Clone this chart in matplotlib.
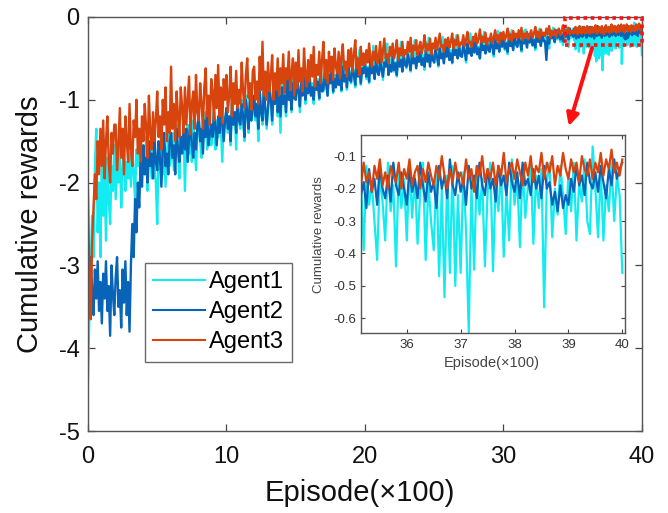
import numpy as np
import matplotlib
matplotlib.use("Agg")
import matplotlib.pyplot as plt
from matplotlib.patches import Rectangle, FancyArrowPatch

plt.rcParams['font.family'] = ['Liberation Sans', 'DejaVu Sans']
plt.rcParams['axes.unicode_minus'] = False

# ---------------- data ----------------
labels = ["Agent1", "Agent2", "Agent3"]
colors = ["#12ECF0", "#0864B8", "#D8440E"]

# episode grids (every 10th episode up to 3500, every 5th for the last 500)
ep_main = np.arange(0, 3500, 10)
ep_tail = np.arange(3500, 4001, 5)

agent1_main = [
    -4.4, -3.6, -3.0, -2.4, -2.9, -1.8, -1.35, -2.6, -2.0, -2.9,
    -1.6, -2.4, -1.9, -2.7, -1.7, -2.2, -2.5, -1.8, -2.1, -1.55,
    -2.2, -1.7, -2.0, -1.55, -2.3, -1.85, -1.6, -2.1, -1.75, -1.95,
    -1.65, -2.05, -1.5, -1.9, -2.2, -1.6, -1.8, -1.45, -2.0, -1.7,
    -1.55, -1.9, -1.45, -2.1, -1.7, -1.6, -1.95, -1.5, -1.8, -2.0,
    -2.5, -1.6, -1.75, -1.45, -1.9, -1.55, -2.05, -1.65, -1.4, -1.8,
    -1.7, -1.4, -1.85, -1.5, -1.3, -1.65, -1.95, -1.45, -1.6, -1.35,
    -2.1, -1.5, -1.3, -1.65, -1.4, -1.75, -1.25, -1.55, -1.85, -1.4,
    -1.25, -1.5, -1.7, -1.3, -1.45, -1.15, -1.6, -1.35, -1.2, -1.55,
    -1.4, -1.1, -1.6, -1.25, -1.45, -1.05, -1.35, -1.75, -1.2, -1.3,
    -1.1, -1.4, -1.2, -1.55, -1.0, -1.3, -1.15, -1.6, -1.05, -1.25,
    -1.35, -1.0, -1.2, -1.5, -0.95, -1.1, -1.4, -0.9, -1.25, -1.15,
    -0.95, -1.25, -1.05, -1.5, -0.85, -1.1, -1.3, -0.9, -1.15, -1.35,
    -1.1, -0.8, -1.0, -1.3, -0.85, -1.05, -0.75, -1.2, -0.95, -1.4,
    -0.8, -1.05, -0.9, -1.2, -0.7, -1.0, -0.85, -1.15, -0.75, -0.95,
    -1.0, -0.7, -0.85, -1.15, -0.75, -0.9, -0.6, -1.05, -0.8, -0.92,
    -0.65, -0.95, -0.8, -1.05, -0.6, -0.85, -0.75, -1.0, -0.55, -0.88,
    -0.9, -0.6, -0.78, -0.95, -0.55, -0.8, -0.5, -0.92, -0.7, -0.85,
    -0.6, -0.82, -0.7, -0.9, -0.5, -0.75, -0.65, -0.88, -0.45, -0.74,
    -0.8, -0.55, -0.68, -0.85, -0.48, -0.7, -0.4, -0.82, -0.6, -0.66,
    -0.52, -0.75, -0.6, -0.8, -0.45, -0.66, -0.35, -0.74, -0.55, -0.64,
    -0.7, -0.45, -0.6, -0.76, -0.42, -0.58, -0.32, -0.7, -0.5, -0.62,
    -0.45, -0.66, -0.55, -0.72, -0.38, -0.58, -0.3, -0.64, -0.48, -0.56,
    -0.62, -0.4, -0.52, -0.66, -0.34, -0.5, -0.28, -0.6, -0.44, -0.54,
    -0.38, -0.58, -0.46, -0.64, -0.3, -0.5, -0.25, -0.56, -0.42, -0.48,
    -0.55, -0.35, -0.45, -0.6, -0.3, -0.46, -0.24, -0.52, -0.38, -0.46,
    -0.34, -0.52, -0.4, -0.56, -0.26, -0.44, -0.22, -0.5, -0.36, -0.42,
    -0.48, -0.3, -0.4, -0.55, -0.26, -0.38, -0.2, -0.46, -0.33, -0.4,
    -0.3, -0.45, -0.36, -0.5, -0.22, -0.38, -0.18, -0.44, -0.3, -0.36,
    -0.42, -0.26, -0.34, -0.48, -0.2, -0.33, -0.17, -0.4, -0.28, -0.35,
    -0.25, -0.4, -0.3, -0.45, -0.18, -0.32, -0.16, -0.38, -0.26, -0.31,
    -0.36, -0.22, -0.3, -0.42, -0.17, -0.28, -0.15, -0.35, -0.24, -0.3,
    -0.22, -0.35, -0.26, -0.4, -0.16, -0.28, -0.14, -0.33, -0.22, -0.27,
    -0.32, -0.2, -0.26, -0.38, -0.15, -0.25, -0.13, -0.31, -0.2, -0.27,
    -0.2, -0.3, -0.24, -0.34, -0.15, -0.26, -0.13, -0.36, -0.19, -0.25,
]
agent2_main = [
    -3.0, -3.45, -2.9, -3.3, -3.6, -3.05, -3.4, -2.95, -3.55, -3.2,
    -3.7, -3.1, -3.4, -2.95, -3.55, -3.25, -3.85, -3.0, -3.35, -3.6,
    -3.15, -2.9, -3.5, -3.3, -3.75, -3.05, -3.45, -2.95, -3.6, -3.2,
    -3.8, -3.0, -2.5, -2.9, -2.2, -2.6, -2.0, -2.3, -1.75, -2.05,
    -1.55, -1.9, -1.7, -2.0, -1.5, -1.8, -1.65, -1.95, -1.45, -1.75,
    -1.85, -1.5, -1.7, -2.05, -1.6, -1.4, -1.8, -1.65, -1.9, -1.5,
    -1.4, -1.7, -1.55, -1.9, -1.35, -1.6, -1.75, -1.45, -1.65, -1.3,
    -1.6, -1.35, -1.75, -1.45, -1.25, -1.55, -1.7, -1.4, -1.6, -1.3,
    -1.2, -1.5, -1.35, -1.65, -1.25, -1.45, -1.1, -1.55, -1.4, -1.3,
    -1.45, -1.15, -1.35, -1.55, -1.2, -1.4, -1.05, -1.3, -1.5, -1.25,
    -1.1, -1.35, -1.2, -1.5, -1.05, -1.3, -1.15, -1.4, -0.95, -1.25,
    -1.3, -1.05, -1.2, -1.45, -1.0, -1.15, -1.35, -0.95, -1.25, -1.1,
    -0.95, -1.2, -1.05, -1.35, -0.9, -1.15, -1.25, -0.85, -1.1, -1.3,
    -1.1, -0.85, -1.0, -1.25, -0.9, -1.05, -0.8, -1.15, -0.95, -1.2,
    -0.85, -1.05, -0.95, -1.15, -0.75, -1.0, -0.9, -1.12, -0.8, -0.98,
    -1.0, -0.75, -0.9, -1.08, -0.8, -0.95, -0.7, -1.0, -0.85, -0.92,
    -0.7, -0.95, -0.85, -1.0, -0.72, -0.88, -0.78, -0.98, -0.65, -0.9,
    -0.88, -0.68, -0.82, -0.95, -0.7, -0.8, -0.6, -0.9, -0.75, -0.85,
    -0.65, -0.82, -0.72, -0.88, -0.6, -0.78, -0.7, -0.85, -0.58, -0.76,
    -0.78, -0.6, -0.7, -0.82, -0.55, -0.72, -0.65, -0.8, -0.62, -0.68,
    -0.55, -0.72, -0.62, -0.78, -0.5, -0.68, -0.6, -0.75, -0.52, -0.66,
    -0.7, -0.5, -0.64, -0.72, -0.55, -0.6, -0.46, -0.7, -0.58, -0.66,
    -0.48, -0.64, -0.56, -0.7, -0.45, -0.6, -0.52, -0.66, -0.44, -0.58,
    -0.6, -0.45, -0.55, -0.64, -0.42, -0.56, -0.5, -0.62, -0.47, -0.54,
    -0.42, -0.58, -0.5, -0.6, -0.4, -0.54, -0.46, -0.6, -0.38, -0.52,
    -0.55, -0.4, -0.48, -0.58, -0.38, -0.5, -0.44, -0.56, -0.36, -0.48,
    -0.36, -0.52, -0.44, -0.55, -0.34, -0.46, -0.4, -0.5, -0.35, -0.47,
    -0.48, -0.34, -0.42, -0.52, -0.32, -0.44, -0.38, -0.47, -0.3, -0.43,
    -0.3, -0.45, -0.38, -0.5, -0.28, -0.4, -0.35, -0.44, -0.27, -0.4,
    -0.42, -0.28, -0.36, -0.45, -0.26, -0.38, -0.32, -0.42, -0.25, -0.36,
    -0.25, -0.38, -0.32, -0.42, -0.24, -0.35, -0.3, -0.4, -0.22, -0.33,
    -0.36, -0.23, -0.3, -0.4, -0.22, -0.32, -0.27, -0.37, -0.21, -0.31,
    -0.22, -0.34, -0.28, -0.37, -0.2, -0.3, -0.25, -0.35, -0.19, -0.29,
    -0.29, -0.52, -0.24, -0.32, -0.17, -0.26, -0.21, -0.3, -0.16, -0.25,
    -0.17, -0.27, -0.21, -0.29, -0.15, -0.24, -0.19, -0.27, -0.14, -0.22,
]
agent3_main = [
    -2.1, -3.2, -3.65, -2.7, -2.3, -1.9, -2.2, -1.5, -1.9, -1.35,
    -1.8, -1.25, -1.95, -1.5, -1.2, -1.75, -2.0, -1.4, -1.65, -1.3,
    -1.3, -1.85, -1.55, -1.1, -1.7, -1.35, -1.9, -1.2, -1.5, -1.75,
    -1.05, -1.6, -1.8, -1.25, -1.45, -1.0, -1.65, -1.35, -1.75, -1.2,
    -1.5, -1.05, -1.35, -1.7, -0.95, -1.4, -1.6, -1.15, -1.5, -1.25,
    -0.9, -1.45, -1.2, -1.6, -1.0, -1.3, -0.85, -1.5, -1.15, -1.4,
    -0.6, -1.35, -1.05, -1.5, -0.9, -1.2, -1.45, -0.85, -1.1, -1.4,
    -0.85, -1.3, -1.0, -0.72, -1.42, -1.05, -0.9, -1.35, -0.7, -1.15,
    -1.25, -0.8, -1.05, -1.35, -0.85, -0.62, -1.2, -0.95, -1.3, -0.75,
    -0.9, -1.25, -0.7, -1.1, -0.58, -1.2, -0.85, -1.28, -0.75, -1.0,
    -0.7, -1.15, -0.95, -0.6, -1.2, -0.8, -1.05, -0.65, -1.1, -0.88,
    -1.05, -0.55, -0.9, -1.1, -0.7, -0.5, -0.98, -0.8, -1.12, -0.65,
    -0.6, -1.0, -0.78, -1.05, -0.48, -0.88, -0.3, -0.95, -0.66, -1.0,
    -0.55, -0.9, -0.72, -0.46, -1.0, -0.68, -0.88, -0.5, -0.95, -0.62,
    -0.8, -0.45, -0.92, -0.62, -0.75, -0.42, -0.88, -0.68, -0.5, -0.95,
    -0.55, -0.86, -0.4, -0.78, -0.62, -0.9, -0.38, -0.7, -0.84, -0.52,
    -0.78, -0.46, -0.72, -0.36, -0.84, -0.58, -0.7, -0.42, -0.8, -0.52,
    -0.3, -0.74, -0.52, -0.8, -0.42, -0.66, -0.48, -0.76, -0.38, -0.6,
    -0.68, -0.42, -0.74, -0.48, -0.33, -0.64, -0.54, -0.72, -0.4, -0.6,
    -0.38, -0.66, -0.46, -0.28, -0.62, -0.5, -0.7, -0.36, -0.58, -0.44,
    -0.58, -0.4, -0.55, -0.32, -0.5, -0.6, -0.42, -0.52, -0.35, -0.56,
    -0.48, -0.3, -0.55, -0.4, -0.26, -0.5, -0.45, -0.56, -0.36, -0.47,
    -0.32, -0.5, -0.42, -0.28, -0.52, -0.38, -0.46, -0.3, -0.48, -0.4,
    -0.45, -0.3, -0.42, -0.25, -0.48, -0.35, -0.4, -0.28, -0.46, -0.36,
    -0.3, -0.44, -0.36, -0.22, -0.42, -0.33, -0.4, -0.26, -0.45, -0.32,
    -0.38, -0.25, -0.4, -0.3, -0.2, -0.36, -0.34, -0.42, -0.27, -0.35,
    -0.25, -0.37, -0.3, -0.2, -0.38, -0.28, -0.34, -0.22, -0.36, -0.31,
    -0.33, -0.22, -0.35, -0.27, -0.18, -0.32, -0.3, -0.36, -0.24, -0.29,
    -0.2, -0.32, -0.27, -0.15, -0.31, -0.24, -0.3, -0.19, -0.33, -0.26,
    -0.29, -0.2, -0.31, -0.25, -0.16, -0.28, -0.22, -0.32, -0.19, -0.27,
    -0.18, -0.28, -0.23, -0.14, -0.27, -0.21, -0.29, -0.17, -0.25, -0.2,
    -0.26, -0.16, -0.24, -0.13, -0.28, -0.2, -0.25, -0.18, -0.27, -0.22,
    -0.16, -0.25, -0.2, -0.12, -0.24, -0.18, -0.26, -0.15, -0.22, -0.19,
    -0.23, -0.14, -0.21, -0.11, -0.25, -0.17, -0.22, -0.15, -0.24, -0.18,
    -0.14, -0.22, -0.17, -0.1, -0.23, -0.16, -0.2, -0.13, -0.21, -0.17,
]

agent1_tail = [
    -0.22, -0.14, -0.28, -0.17, -0.39, -0.13, -0.25, -0.18, -0.3, -0.42,
    -0.15, -0.24, -0.36, -0.12, -0.27, -0.19, -0.44, -0.14, -0.26, -0.17,
    -0.36, -0.13, -0.29, -0.16, -0.37, -0.21, -0.12, -0.42, -0.18, -0.3,
    -0.39, -0.14, -0.47, -0.2, -0.535, -0.16, -0.46, -0.13, -0.5, -0.22,
    -0.46, -0.15, -0.33, -0.643, -0.19, -0.45, -0.13, -0.28, -0.17, -0.44,
    -0.21, -0.12, -0.455, -0.18, -0.27, -0.14, -0.41, -0.2, -0.36, -0.11,
    -0.25, -0.17, -0.38, -0.13, -0.29, -0.19, -0.12, -0.37, -0.16, -0.26,
    -0.14, -0.566, -0.18, -0.12, -0.35, -0.2, -0.28, -0.13, -0.22, -0.34,
    -0.15, -0.27, -0.12, -0.36, -0.18, -0.24, -0.11, -0.3, -0.34, -0.07,
    -0.2, -0.35, -0.14, -0.36, -0.19, -0.27, -0.12, -0.3, -0.16, -0.22,
    -0.46,
]
agent2_tail = [
    -0.2, -0.24, -0.15, -0.22, -0.18, -0.26, -0.14, -0.21, -0.17, -0.25,
    -0.13, -0.2, -0.23, -0.16, -0.24, -0.12, -0.19, -0.22, -0.15, -0.2,
    -0.25, -0.14, -0.21, -0.17, -0.23, -0.12, -0.19, -0.24, -0.15, -0.21,
    -0.18, -0.26, -0.13, -0.2, -0.16, -0.23, -0.11, -0.19, -0.22, -0.15,
    -0.21, -0.17, -0.25, -0.13, -0.2, -0.16, -0.23, -0.12, -0.19, -0.22,
    -0.14, -0.2, -0.17, -0.24, -0.13, -0.19, -0.16, -0.22, -0.12, -0.18,
    -0.21, -0.15, -0.23, -0.12, -0.19, -0.17, -0.22, -0.14, -0.2, -0.16,
    -0.23, -0.13, -0.2, -0.18, -0.25, -0.21, -0.27, -0.19, -0.26, -0.22,
    -0.25, -0.17, -0.21, -0.13, -0.19, -0.16, -0.22, -0.12, -0.18, -0.2,
    -0.15, -0.21, -0.13, -0.18, -0.23, -0.14, -0.19, -0.11, -0.17, -0.14,
    -0.12,
]
agent3_tail = [
    -0.17, -0.2, -0.14, -0.19, -0.12, -0.18, -0.15, -0.21, -0.13, -0.17,
    -0.11, -0.19, -0.15, -0.2, -0.13, -0.16, -0.18, -0.12, -0.2, -0.14,
    -0.17, -0.11, -0.19, -0.15, -0.13, -0.2, -0.14, -0.18, -0.12, -0.16,
    -0.19, -0.13, -0.17, -0.1, -0.16, -0.2, -0.14, -0.18, -0.12, -0.17,
    -0.15, -0.19, -0.11, -0.17, -0.14, -0.21, -0.13, -0.16, -0.1, -0.18,
    -0.14, -0.17, -0.12, -0.19, -0.13, -0.16, -0.09, -0.18, -0.14, -0.12,
    -0.17, -0.11, -0.15, -0.19, -0.12, -0.16, -0.1, -0.18, -0.13, -0.15,
    -0.09, -0.17, -0.12, -0.15, -0.1, -0.19, -0.13, -0.16, -0.09, -0.14,
    -0.17, -0.11, -0.15, -0.12, -0.18, -0.1, -0.14, -0.16, -0.11, -0.17,
    -0.12, -0.15, -0.09, -0.16, -0.11, -0.14, -0.08, -0.15, -0.12, -0.16,
    -0.11,
]

main_series = [agent1_main, agent2_main, agent3_main]
tail_series = [agent1_tail, agent2_tail, agent3_tail]

x_ticks = [0, 10, 20, 30, 40]
y_ticks = [0, -1, -2, -3, -4, -5]
inset_x_ticks = [36, 37, 38, 39, 40]
inset_y_ticks = [-0.1, -0.2, -0.3, -0.4, -0.5, -0.6]

# ---------------- figure ----------------
fig = plt.figure(figsize=(6.68, 5.13), dpi=100)
ax = fig.add_axes([0.1317, 0.1598, 0.8293, 0.8071])

x_all = np.concatenate([ep_main, ep_tail]) / 100.0
for lab, col, m, t in zip(labels, colors, main_series, tail_series):
    y_all = np.concatenate([np.asarray(m), np.asarray(t)])
    ax.plot(x_all, y_all, color=col, lw=1.7, label=lab)

ax.set_xlim(0, 40)
ax.set_ylim(-5, 0)
ax.set_xticks(x_ticks)
ax.set_yticks(y_ticks)
ax.set_yticklabels([str(v) for v in y_ticks])
ax.tick_params(direction='in', length=5, width=0.9, top=True, right=True,
               labelsize=17, colors='#444444', labelcolor='#111111')
ax.tick_params(axis='x', pad=11)
ax.tick_params(axis='y', pad=6)
for s in ax.spines.values():
    s.set_color('#555555')
    s.set_linewidth(1.0)

ax.set_xlabel("Episode(×100)", fontsize=21, color='#111111', va='top')
ax.set_ylabel("Cumulative rewards", fontsize=21, color='#111111')
ax.xaxis.set_label_coords(0.49, -0.115)
ax.yaxis.set_label_coords(-0.079, 0.5)

leg = ax.legend(loc='upper left', bbox_to_anchor=(0.103, 0.406), borderaxespad=0,
                fontsize=17, handlelength=2.2, handletextpad=0.15,
                labelspacing=0.34, borderpad=0.35, fancybox=False,
                frameon=True, edgecolor='#444444')
leg.get_frame().set_linewidth(1.0)
for h in leg.get_lines():
    h.set_linewidth(1.5)

# zoom-region rectangle and arrow
rect = Rectangle((34.45, -0.34), 40 - 34.45, 0.33, fill=False, edgecolor='#FF1010',
                 linestyle=(0, (1, 1)), linewidth=2.6, clip_on=False, zorder=5)
ax.add_patch(rect)
arr = FancyArrowPatch((36.46, -0.34), (34.66, -1.35), arrowstyle='-|>',
                      mutation_scale=18, color='#FF1010', linewidth=2.8, zorder=5)
ax.add_patch(arr)

# ---------------- inset ----------------
ins = fig.add_axes([0.5404, 0.3509, 0.3952, 0.3859])
x_tail = ep_tail / 100.0
for col, t in zip(colors, tail_series):
    ins.plot(x_tail, t, color=col, lw=1.6)
ins.set_xlim(35.15, 40.05)
ins.set_ylim(-0.645, -0.035)
ins.set_xticks(inset_x_ticks)
ins.set_yticks(inset_y_ticks)
ins.set_yticklabels([f"{v:.1f}" for v in inset_y_ticks])
ins.tick_params(direction='in', length=3, width=0.8, top=True, right=True,
                labelsize=9.5, colors='#444444', labelcolor='#333333')
ins.tick_params(axis='x', pad=4.5)
ins.tick_params(axis='y', pad=3.5)
for s in ins.spines.values():
    s.set_color('#555555')
    s.set_linewidth(1.0)
ins.set_xlabel("Episode(×100)", fontsize=10.5, color='#444444', va='top')
ins.set_ylabel("Cumulative rewards", fontsize=9.5, color='#444444')
ins.xaxis.set_label_coords(0.496, -0.115)
ins.yaxis.set_label_coords(-0.136, 0.495)

fig.savefig("out.png", dpi=100)
